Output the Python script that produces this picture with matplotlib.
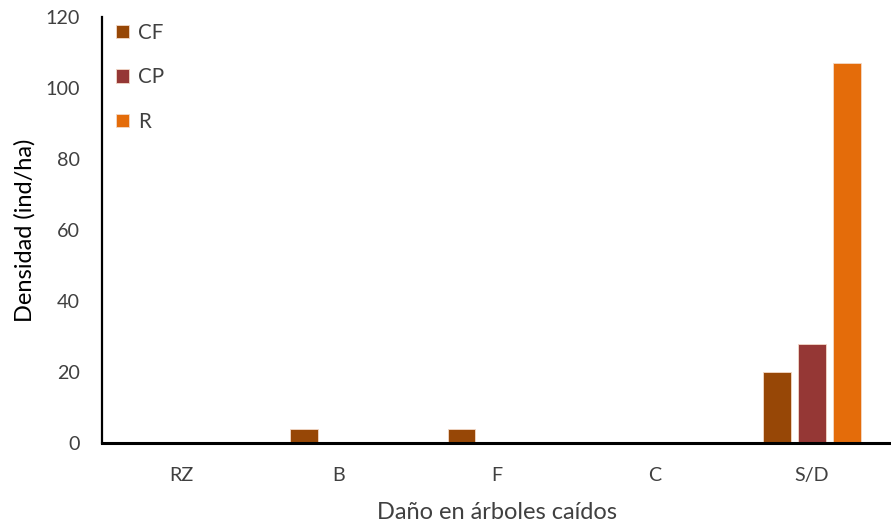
import numpy as np
import matplotlib.pyplot as plt

# Daño en árboles caídos: densidad por categoría
categorias = ['RZ', 'B', 'F', 'C', 'S/D']
cf = [0, 4, 4, 0, 20]
cp = [0, 0, 0, 0, 28]
r = [0, 0, 0, 0, 107]

series = ['CF', 'CP', 'R']
colores = ['#974706', '#953735', '#E46C0A']

plt.rcParams['font.family'] = ['Lato', 'DejaVu Sans']
gris = '#404040'

fig = plt.figure(figsize=(8.91, 5.27), dpi=100)
ax = fig.add_axes([0.1145, 0.159, 0.8855, 0.809])

x = np.arange(len(categorias))
ancho = 0.177
paso = 0.222
for i, (vals, nombre, col) in enumerate(zip([cf, cp, r], series, colores)):
    ax.bar(x + (i - 1) * paso, vals, width=ancho, color=col, label=nombre,
           edgecolor='#f3d9c8', linewidth=0.6, zorder=2)

ax.set_xlim(-0.5, 4.5)
ax.set_ylim(0, 120)
ax.set_yticks(np.arange(0, 121, 20))
ax.set_xticks(x)
ax.set_xticklabels(categorias)
ax.tick_params(axis='both', length=0, labelsize=14.2, colors=gris)
ax.tick_params(axis='x', pad=17)
ax.tick_params(axis='y', pad=16)

for lado in ['top', 'right']:
    ax.spines[lado].set_visible(False)
ax.spines['left'].set_linewidth(1.6)
ax.spines['bottom'].set_linewidth(2.2)

ax.set_ylabel('Densidad (ind/ha)', fontsize=17, color='black', labelpad=7)
ax.set_xlabel('Daño en árboles caídos', fontsize=17, color=gris, labelpad=13)

ax.legend(loc='upper left', bbox_to_anchor=(-0.006, 1.03), frameon=False,
          fontsize=14.8, handlelength=0.62, handleheight=0.62,
          handletextpad=0.45, labelspacing=1.2, labelcolor=gris)

fig.savefig('out.png', dpi=100)
